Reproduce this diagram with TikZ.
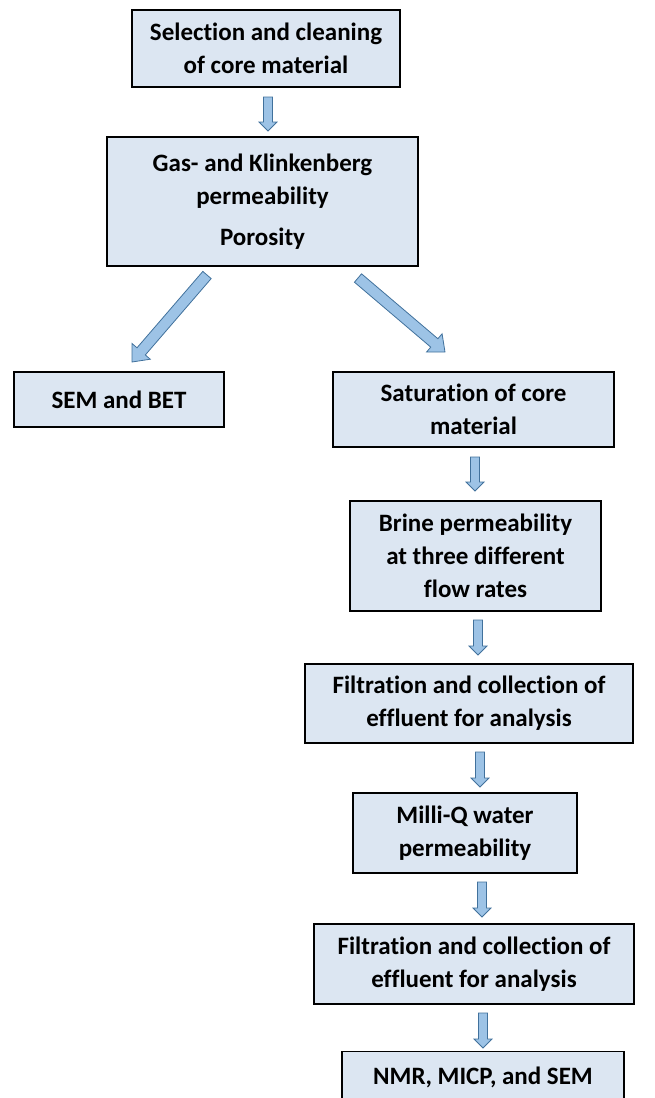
\documentclass[tikz,border=0pt]{standalone}
\usepackage{fontspec}
\setmainfont{Carlito}[Ligatures=NoCommon]
\usetikzlibrary{calc}
\definecolor{boxfill}{HTML}{DCE6F2}
\definecolor{arrfill}{HTML}{9DC3E6}
\definecolor{arrline}{HTML}{41719C}
\tikzset{
  box/.style={draw=black, line width=1.2pt, fill=boxfill, align=center,
    font=\fontsize{25}{33}\selectfont\bfseries, inner sep=0pt},
  barr/.style={fill=arrfill, draw=arrline, line width=0.8pt, line join=miter}
}
% #1 tail, #2 tip, #3 shaft half width, #4 head half width, #5 head length
\newcommand\blockarrow[5]{%
  \draw[barr] let \p1=(#1), \p2=(#2),
    \n1={atan2(\y2-\y1,\x2-\x1)},
    \n2={veclen(\x2-\x1,\y2-\y1)-#5} in
    ($(\p1)+({\n1+90}:#3)$) -- ($(\p1)+(\n1:\n2)+({\n1+90}:#3)$)
    -- ($(\p1)+(\n1:\n2)+({\n1+90}:#4)$) -- (\p2)
    -- ($(\p1)+(\n1:\n2)+({\n1-90}:#4)$) -- ($(\p1)+(\n1:\n2)+({\n1-90}:#3)$)
    -- ($(\p1)+({\n1-90}:#3)$) -- cycle;}
\begin{document}
\begin{tikzpicture}[x=1pt,y=1pt]
\useasboundingbox (0,0) rectangle (654,-1098);
\clip (0,0) rectangle (654,-1098);
\node[box, minimum width=268, minimum height=77] (b1) at (266,-48.5) {Selection and cleaning\\of core material};
\node[box, minimum width=311, minimum height=129] (b2) at (262.5,-201.5) {Gas- and Klinkenberg\\permeability\\[8pt]Porosity};
\node[box, minimum width=210, minimum height=55] (b3) at (119,-399.5) {SEM and BET};
\node[box, minimum width=281, minimum height=75] (b4) at (473.5,-409.5) {Saturation of core\\material};
\node[box, minimum width=251, minimum height=110] (b5) at (475.5,-556) {Brine permeability\\at three different\\flow rates};
\node[box, minimum width=328, minimum height=79] (b6) at (469,-703.5) {Filtration and collection of\\effluent for analysis};
\node[box, minimum width=224, minimum height=80] (b7) at (465,-833) {Milli-Q water\\permeability};
\node[box, minimum width=320, minimum height=80] (b8) at (474,-964) {Filtration and collection of\\effluent for analysis};
\node[box, minimum width=282, minimum height=52, anchor=north] (b9) at (483,-1051) {NMR, MICP, and SEM};
% arrow end points
\coordinate (a1s) at (268,-97);   \coordinate (a1e) at (268,-131);
\coordinate (a2s) at (207,-275);  \coordinate (a2e) at (132,-362);
\coordinate (a3s) at (358,-278);  \coordinate (a3e) at (445,-352);
\coordinate (a4s) at (475,-457);  \coordinate (a4e) at (475,-491);
\coordinate (a5s) at (478,-620);  \coordinate (a5e) at (478,-655);
\coordinate (a6s) at (480,-752);  \coordinate (a6e) at (480,-787);
\coordinate (a7s) at (482,-882);  \coordinate (a7e) at (482,-917);
\coordinate (a8s) at (483,-1013); \coordinate (a8e) at (483,-1048);
\blockarrow{a1s}{a1e}{4.5}{9}{9}
\blockarrow{a2s}{a2e}{5.5}{12}{14}
\blockarrow{a3s}{a3e}{5.5}{12}{14}
\blockarrow{a4s}{a4e}{4.5}{9}{9}
\blockarrow{a5s}{a5e}{4.5}{9}{9}
\blockarrow{a6s}{a6e}{4.5}{9}{9}
\blockarrow{a7s}{a7e}{4.5}{9}{9}
\blockarrow{a8s}{a8e}{4.5}{9}{9}
\end{tikzpicture}
\end{document}
